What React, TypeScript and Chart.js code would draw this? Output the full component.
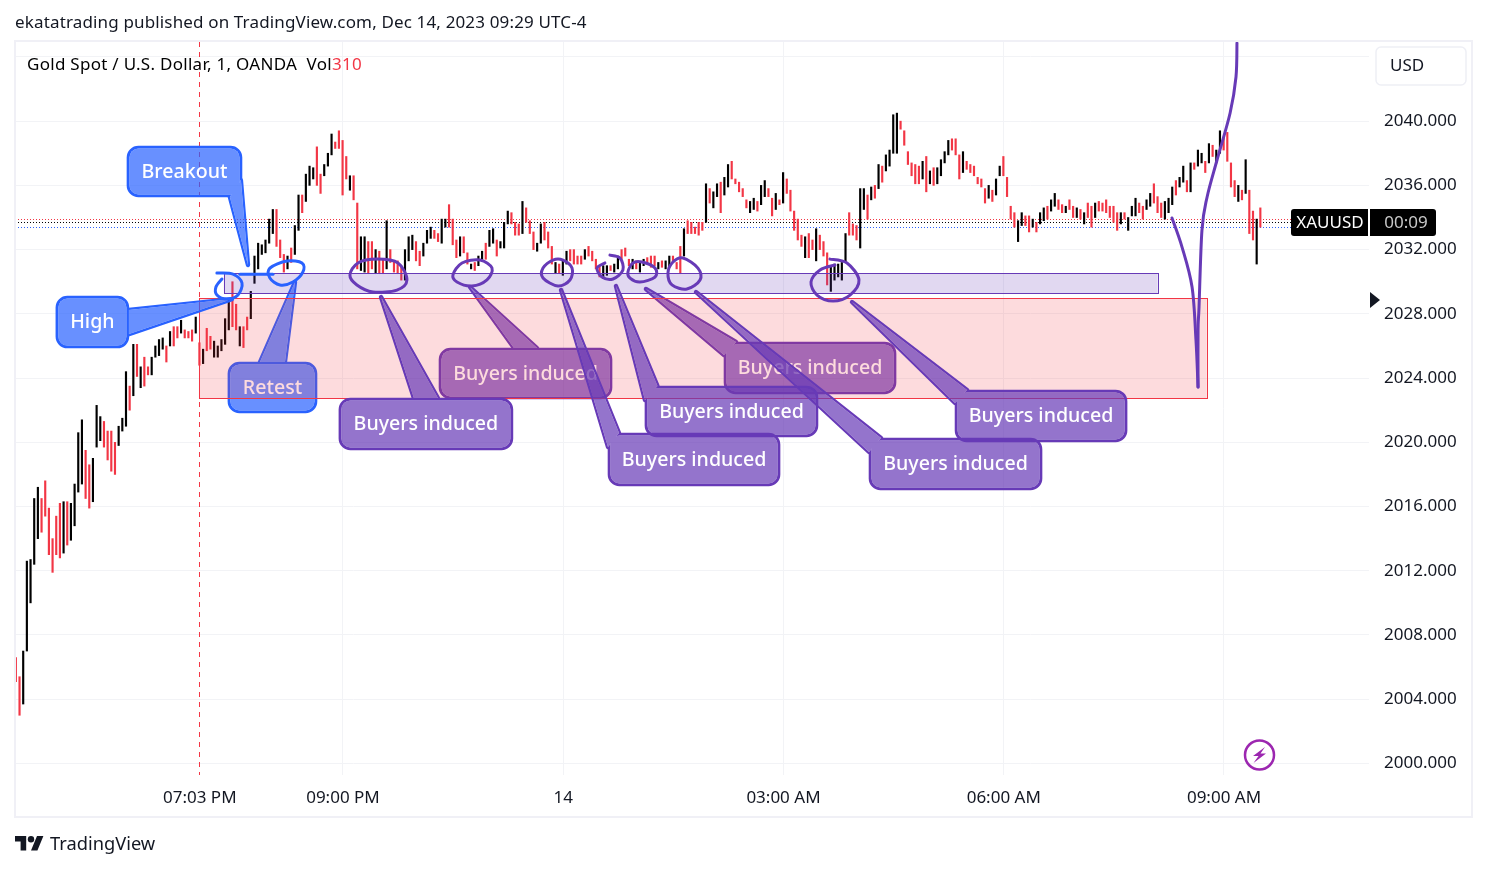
import React, { useEffect, useRef } from "react";
import { Chart, registerables } from "chart.js";

Chart.register(...registerables);

const FONT = '"Noto Sans"';

// one candle per three one-minute bars; envelope high / low and colour (B = up, R = down)
const highsEvening = [
  2006.6, 2005.4, 2007.0, 2012.6, 2012.7, 2016.5, 2017.2, 2016.5, 2017.6, 2015.9,
  2014.0, 2015.4, 2016.2, 2016.3, 2016.3, 2016.2, 2017.4, 2020.6, 2021.4, 2019.5,
  2018.6, 2019.0, 2022.3, 2021.6, 2021.3, 2020.7, 2020.7, 2020.0, 2021.0, 2021.5,
  2024.4, 2023.5, 2026.1, 2026.1, 2024.7, 2025.3, 2024.7, 2025.3, 2026.0, 2026.4,
  2026.5, 2026.0, 2026.9, 2027.2, 2027.2, 2027.6, 2027.0, 2026.9, 2027.0, 2027.8,
  2026.2, 2025.8, 2027.1, 2026.6, 2026.3, 2026.0, 2026.4, 2027.7, 2028.9, 2030.0,
  2028.6, 2027.2, 2027.2, 2027.8, 2029.4, 2031.6, 2032.4, 2032.3, 2032.6, 2033.9,
  2034.5, 2034.5, 2032.6, 2031.7, 2031.6, 2032.1, 2033.5, 2035.4, 2035.4, 2036.7,
  2037.2, 2037.1, 2038.4, 2036.7, 2037.3, 2038.0, 2039.2, 2038.7, 2039.4, 2038.8,
  2037.8, 2036.6, 2036.6, 2034.9,
];
const lowsEvening = [
  2005.1, 2003.0, 2003.7, 2007.0, 2010.0, 2012.4, 2014.0, 2014.4, 2015.4, 2013.0,
  2011.9, 2013.0, 2012.8, 2013.1, 2013.6, 2013.9, 2014.8, 2016.9, 2017.4, 2016.5,
  2015.9, 2016.3, 2019.7, 2020.1, 2019.7, 2018.9, 2018.2, 2018.0, 2019.8, 2020.7,
  2021.0, 2022.0, 2022.9, 2024.1, 2023.4, 2023.5, 2024.2, 2024.2, 2025.3, 2025.4,
  2025.8, 2025.0, 2026.0, 2026.0, 2026.5, 2026.8, 2026.5, 2026.5, 2026.3, 2026.8,
  2024.8, 2024.9, 2025.7, 2025.8, 2025.3, 2025.3, 2025.7, 2026.1, 2027.0, 2027.2,
  2027.0, 2026.0, 2025.9, 2027.0, 2027.7, 2029.9, 2030.8, 2031.7, 2031.8, 2032.4,
  2033.0, 2032.2, 2031.5, 2030.6, 2030.8, 2031.2, 2031.7, 2033.2, 2034.3, 2035.0,
  2036.0, 2036.4, 2036.0, 2035.5, 2036.6, 2037.2, 2037.9, 2038.3, 2038.3, 2035.4,
  2036.4, 2035.7, 2035.1, 2030.8,
];
const dirsEvening =
  "RRBBBBBRRR" + "RRRBRBBBBR" + "RBBBRRRRBB" + "BRBRBRRBBB" + "BRBRRBRRRB" +
  "RBRRBBBBBR" + "RBRRBBBBBB" + "BRRRBRBBRB" + "BBRRBBBRRR" + "RBRR";

const highsNight = [
  2032.8, 2032.8, 2032.5, 2032.5, 2032.0, 2031.9, 2031.4, 2033.8, 2032.0, 2031.3,
  2031.3, 2030.9, 2032.0, 2032.8, 2032.9, 2032.5, 2031.9, 2032.4, 2033.2, 2033.4,
  2033.2, 2033.0, 2033.9, 2033.9, 2034.8, 2033.9, 2032.6, 2032.8, 2032.8, 2031.8,
  2031.1, 2031.2, 2031.6, 2031.9, 2032.4, 2033.2, 2033.3, 2032.6, 2032.5, 2033.7,
  2034.4, 2034.3, 2033.7, 2033.6, 2035.0, 2034.6, 2033.8, 2033.1, 2032.4, 2033.6,
  2033.7, 2033.1, 2032.2, 2031.2, 2031.1, 2031.3, 2031.9, 2032.0, 2032.0, 2031.6,
  2031.6, 2032.0, 2032.2, 2031.9, 2031.4, 2030.9, 2031.0, 2031.0, 2031.0, 2031.1,
  2031.6, 2032.0, 2032.1, 2031.4, 2031.4, 2031.3, 2031.2, 2031.4, 2031.5, 2031.6,
  2031.6, 2031.2, 2031.3, 2031.3, 2031.6, 2031.6, 2031.2, 2032.2, 2033.3, 2033.8,
  2033.7, 2033.4, 2033.7, 2033.7, 2036.1,
];
const lowsNight = [
  2030.7, 2030.6, 2030.5, 2030.8, 2030.5, 2030.5, 2030.5, 2030.8, 2031.2, 2030.6,
  2030.5, 2030.1, 2030.1, 2031.3, 2032.0, 2031.3, 2031.0, 2031.6, 2032.4, 2032.7,
  2032.7, 2032.5, 2032.4, 2033.4, 2033.4, 2032.3, 2031.5, 2031.6, 2031.8, 2031.1,
  2030.8, 2030.7, 2031.0, 2031.4, 2031.4, 2032.2, 2032.4, 2031.6, 2032.1, 2032.1,
  2033.6, 2033.6, 2032.9, 2032.9, 2033.0, 2033.7, 2033.0, 2032.0, 2031.9, 2032.4,
  2032.6, 2032.1, 2031.1, 2030.5, 2030.5, 2030.4, 2031.1, 2031.3, 2031.1, 2031.1,
  2031.1, 2031.4, 2031.6, 2031.3, 2030.8, 2030.3, 2030.2, 2030.4, 2030.7, 2030.6,
  2030.8, 2031.4, 2031.6, 2031.0, 2030.8, 2030.8, 2030.6, 2031.0, 2031.1, 2030.9,
  2031.0, 2030.8, 2030.9, 2030.8, 2030.9, 2031.2, 2030.8, 2030.5, 2031.6, 2033.0,
  2033.0, 2033.0, 2032.9, 2033.2, 2033.7,
];
const dirsNight =
  "BBRRBRRBRR" + "RRBBBRRBBB" + "RRBBRRRBRR" + "BRBBRBBRBB" + "BRRRBRRRBB" +
  "RRRBRBBRRR" + "RBRRRRBBRB" + "BRRRBRBBRR" + "RBRBBRRRBR" + "RRRRB";

const highsMorning = [
  2035.8, 2035.6, 2036.1, 2036.2, 2036.5, 2037.3, 2037.5, 2036.4, 2036.2, 2035.8,
  2035.1, 2035.0, 2035.2, 2035.0, 2036.0, 2036.3, 2035.8, 2035.2, 2035.5, 2035.1,
  2036.8, 2036.4, 2035.7, 2034.4, 2033.9, 2032.9, 2032.8, 2033.0, 2032.6, 2033.3,
  2032.9, 2032.5, 2031.8, 2031.0, 2031.1, 2031.1, 2031.2, 2033.0, 2034.3, 2033.6,
  2033.5, 2035.8, 2035.8, 2035.4, 2035.9, 2036.0, 2037.3, 2037.2, 2037.9, 2038.2,
  2040.4, 2040.5, 2040.0, 2039.4, 2038.1, 2037.4, 2037.3, 2037.2, 2037.5, 2037.8,
  2036.9, 2037.1, 2037.1, 2037.6, 2038.1, 2038.8, 2038.9, 2038.9, 2037.9, 2038.1,
  2037.5, 2037.3, 2037.2, 2036.5, 2036.4, 2035.8, 2036.0, 2035.7, 2036.4, 2037.2,
  2037.8, 2036.5, 2034.7, 2034.3, 2033.8, 2034.3, 2034.1, 2034.1, 2033.9, 2033.7,
  2034.3,
];
const lowsMorning = [
  2034.9, 2034.6, 2035.3, 2034.3, 2035.4, 2035.9, 2036.4, 2036.1, 2035.6, 2035.3,
  2034.6, 2034.3, 2034.5, 2034.4, 2034.8, 2035.3, 2035.3, 2034.1, 2034.5, 2034.8,
  2034.9, 2035.5, 2034.4, 2033.2, 2032.6, 2032.2, 2031.5, 2031.5, 2032.0, 2031.3,
  2032.0, 2031.6, 2029.8, 2029.4, 2030.1, 2030.3, 2030.1, 2031.2, 2032.9, 2032.9,
  2032.6, 2032.1, 2034.5, 2033.9, 2035.1, 2035.2, 2035.8, 2036.2, 2036.9, 2037.2,
  2038.0, 2038.0, 2039.5, 2038.5, 2037.3, 2036.6, 2036.1, 2036.1, 2036.4, 2035.6,
  2036.1, 2036.0, 2036.1, 2036.6, 2037.4, 2037.9, 2038.2, 2037.9, 2036.4, 2036.8,
  2037.0, 2036.8, 2036.6, 2036.1, 2035.9, 2034.9, 2035.2, 2035.0, 2035.4, 2036.6,
  2036.6, 2035.3, 2033.9, 2033.4, 2032.5, 2033.5, 2033.5, 2033.1, 2033.4, 2033.1,
  2033.6,
];
const dirsMorning =
  "RBBRBBRRRR" + "RBBRBBRRBR" + "BRRRRRBRRB" + "RRRBBBBBRR" + "RBBRBRBRBB" +
  "BBRRRRRRBR" + "BRBBBBRRRB" + "RRRRRRBRBB" + "RRRRBBRRBR" + "B";

const highsMarket = [
  2034.6, 2034.7, 2035.1, 2035.5, 2035.1, 2034.8, 2034.7, 2035.1, 2034.7, 2034.6,
  2034.5, 2034.3, 2034.9, 2034.7, 2034.9, 2035.0, 2034.9, 2035.1, 2034.7, 2034.7,
  2034.3, 2034.3, 2034.3, 2034.0, 2034.7, 2035.2, 2034.9, 2034.7, 2035.1, 2035.5,
  2036.1, 2035.3, 2034.9, 2035.0, 2035.2, 2035.9, 2036.3, 2036.5, 2037.2, 2036.3,
  2037.4, 2037.4, 2038.2, 2038.0, 2037.5, 2038.6, 2038.5, 2038.2, 2039.4, 2039.0,
  2039.3, 2037.4, 2036.3, 2036.0, 2035.7, 2037.6, 2035.7, 2034.4, 2033.9, 2034.6,
];
const lowsMarket = [
  2033.8, 2033.9, 2034.4, 2034.7, 2034.5, 2034.3, 2034.3, 2034.5, 2034.0, 2034.0,
  2033.9, 2033.6, 2034.0, 2033.4, 2034.0, 2034.4, 2034.4, 2034.3, 2034.0, 2033.7,
  2033.2, 2033.6, 2033.9, 2033.2, 2034.1, 2034.1, 2034.3, 2033.9, 2034.5, 2034.7,
  2034.9, 2034.3, 2034.0, 2033.9, 2034.3, 2034.8, 2035.4, 2035.9, 2036.2, 2035.6,
  2035.6, 2037.0, 2037.2, 2037.4, 2036.8, 2037.4, 2037.8, 2037.4, 2038.0, 2038.2,
  2037.5, 2035.9, 2035.3, 2035.0, 2035.1, 2035.5, 2033.0, 2032.6, 2031.1, 2033.4,
];
const dirsMarket =
  "BRBBRRBRRB" + "RBRRBRRRRR" + "RBRBBBRRBB" + "RRRBBBRBBR" + "BRBBRBRBBR" +
  "RRRBRBRRBR";

const highs = [...highsEvening, ...highsNight, ...highsMorning, ...highsMarket];
const lows = [...lowsEvening, ...lowsNight, ...lowsMorning, ...lowsMarket];
const dirs = dirsEvening + dirsNight + dirsMorning + dirsMarket;

const firstMinute = -267.3; // minutes relative to 9:00 PM
const minutesPerCandle = 3;

const timeTicks = [-117, 0, 180, 360, 540, 720];
const timeLabels = ["07:03 PM", "09:00 PM", "14", "03:00 AM", "06:00 AM", "09:00 AM"];
const priceTicks = [2000, 2004, 2008, 2012, 2016, 2020, 2024, 2028, 2032, 2036, 2040, 2044];
const priceLabels = ["2000.000", "2004.000", "2008.000", "2012.000", "2016.000", "2020.000", "2024.000", "2028.000", "2032.000", "2036.000", "2040.000", ""];

const priceLevels = [
  { price: 2033.89, color: "#f23645" },
  { price: 2033.7, color: "#000000" },
  { price: 2033.4, color: "#2962ff" },
];

const BLUE = { line: "#2962ff", fill: "#2962ff", alpha: 0.7 };
const PURPLE = { line: "#673ab7", fill: "#673ab7", alpha: 0.7 };

type P = [number, number];
type Callout = { text: string; box: [number, number, number, number]; tip: P; base: [P, P]; style: typeof BLUE };

const calloutBreakout: Callout = { text: "Breakout", box: [-176.5, 2038.45, -82.5, 2035.28], tip: [-77.6, 2031.04], base: [[-92.4, 2035.28], [-83.4, 2036.33]], style: BLUE };
const calloutHigh: Callout = { text: "High", box: [-234.6, 2029.11, -174.9, 2025.87], tip: [-90.7, 2028.92], base: [[-174.9, 2028.24], [-174.9, 2026.74]], style: BLUE };
const calloutRetest: Callout = { text: "Retest", box: [-94, 2025.0, -21.2, 2021.83], tip: [-39.2, 2029.98], base: [[-67.8, 2025.0], [-47.4, 2025.0]], style: BLUE };
const buyers = "Buyers induced";
const callout1: Callout = { text: buyers, box: [-3.3, 2022.76, 138.9, 2019.52], tip: [31.1, 2029.05], base: [[58, 2022.76], [77.6, 2022.76]], style: PURPLE };
const callout2: Callout = { text: buyers, box: [78.5, 2025.87, 219.9, 2022.7], tip: [103.8, 2029.67], base: [[139.8, 2025.87], [158.6, 2025.87]], style: PURPLE };
const callout3: Callout = { text: buyers, box: [216.6, 2020.58, 357.2, 2017.28], tip: [178.2, 2029.49], base: [[225.6, 2020.58], [216.6, 2019.71]], style: PURPLE };
const callout4: Callout = { text: buyers, box: [246.8, 2023.51, 388.2, 2020.33], tip: [223.1, 2029.73], base: [[257, 2023.51], [246.8, 2022.63]], style: PURPLE };
const callout5: Callout = { text: buyers, box: [311.4, 2026.25, 452, 2023.01], tip: [247.6, 2029.55], base: [[321.2, 2026.25], [311.4, 2025.44]], style: PURPLE };
const callout6: Callout = { text: buyers, box: [429.9, 2020.27, 571.3, 2017.03], tip: [288.5, 2029.36], base: [[439.7, 2020.27], [429.9, 2019.4]], style: PURPLE };
const callout7: Callout = { text: buyers, box: [500.2, 2023.26, 640.8, 2020.02], tip: [416, 2028.74], base: [[510, 2023.26], [500.2, 2022.45]], style: PURPLE };

const redZone = { box: [-117.7, 2028.97, 705.9, 2022.74], line: "#f23645", fill: "rgba(242,54,69,0.18)" };
const purpleZone = { box: [-97.3, 2030.52, 665.8, 2029.28], line: "#673ab7", fill: "rgba(103,58,183,0.2)" };

// brush strokes, as (minute, price)
const blueStrokes: { pts: P[]; closed?: boolean }[] = [
  { pts: [[-103, 2030.54], [-89.9, 2030.48], [-82.5, 2029.92], [-85.8, 2029.17], [-94.8, 2028.92], [-103, 2029.17], [-103.8, 2029.67], [-98.9, 2030.17]] },
  { pts: [[-84.2, 2030.46], [-57.2, 2030.46]] },
  { closed: true, pts: [[-45.8, 2031.29], [-33.5, 2031.17], [-32.7, 2030.61], [-40.9, 2029.98], [-51.5, 2029.8], [-59.7, 2030.23], [-59.7, 2030.85]] },
];
const purpleStrokes: { pts: P[]; closed?: boolean }[] = [
  { closed: true, pts: [[5.7, 2030.42], [12.3, 2031.17], [27.8, 2031.41], [45, 2031.17], [52.3, 2030.11], [44.1, 2029.48], [24.5, 2029.36], [11.4, 2029.8]] },
  { closed: true, pts: [[112, 2031.35], [121.8, 2030.85], [117.7, 2030.11], [105.4, 2029.73], [93.2, 2029.98], [89.9, 2030.42], [97.3, 2031.17]] },
  { closed: true, pts: [[171.6, 2031.35], [163.5, 2030.85], [163.5, 2030.23], [175.7, 2029.73], [185.5, 2030.11], [187.2, 2030.85], [179.8, 2031.35]] },
  { pts: [[218.2, 2031.66], [226.4, 2031.48], [228.8, 2030.73], [220.7, 2030.17], [211.7, 2030.29], [207.6, 2030.85], [214.1, 2031.17]] },
  { closed: true, pts: [[244.4, 2031.23], [255, 2030.85], [255, 2030.29], [242.7, 2029.98], [234.6, 2030.23], [232.9, 2030.61], [237, 2031.17]] },
  { closed: true, pts: [[277.9, 2031.48], [290.1, 2030.85], [291.8, 2030.11], [281.1, 2029.55], [268.9, 2029.8], [265.6, 2030.54], [269.7, 2031.23]] },
  { pts: [[398, 2031.41], [411.9, 2031.17], [421.7, 2030.11], [414.4, 2029.17], [400.5, 2028.8], [387.4, 2029.17], [382.5, 2029.98], [389.9, 2030.73], [402.1, 2031.04]] },
  { pts: [[677.5, 2033.97], [685.7, 2032.16], [693.9, 2029.67], [697.1, 2026.37], [698.8, 2023.44]] },
  { pts: [[698.8, 2023.44], [698.8, 2026.99], [699.6, 2028.43], [702, 2033.22], [706.2, 2035.28], [714.3, 2037.58], [725, 2040.51], [729.8, 2042.75], [730.6, 2044.87]] },
];

function smooth(ctx: CanvasRenderingContext2D, pts: P[], closed?: boolean) {
  const n = pts.length;
  const g = (i: number) => (closed ? pts[(i + n) % n] : pts[Math.max(0, Math.min(n - 1, i))]);
  ctx.beginPath();
  ctx.moveTo(pts[0][0], pts[0][1]);
  const last = closed ? n : n - 1;
  for (let i = 0; i < last; i++) {
    const p0 = g(i - 1), p1 = g(i), p2 = g(i + 1), p3 = g(i + 2);
    ctx.bezierCurveTo(
      p1[0] + (p2[0] - p0[0]) / 6, p1[1] + (p2[1] - p0[1]) / 6,
      p2[0] - (p3[0] - p1[0]) / 6, p2[1] - (p3[1] - p1[1]) / 6,
      p2[0], p2[1]
    );
  }
  if (closed) ctx.closePath();
}

const annotationPlugin = {
  id: "annotations",
  beforeDatasetsDraw(chart: any) {
    const { ctx, chartArea, scales } = chart;
    const { x, y } = scales;
    ctx.save();
    // last-price levels run up to the symbol label
    ctx.lineWidth = 1;
    ctx.setLineDash([1, 2]);
    priceLevels.forEach((l) => {
      const py = Math.round(y.getPixelForValue(l.price)) + 0.5;
      ctx.strokeStyle = l.color;
      ctx.beginPath();
      ctx.moveTo(chartArea.left, py);
      ctx.lineTo(chartArea.right - 78, py);
      ctx.stroke();
    });
    // session divider
    const px = Math.round(x.getPixelForValue(timeTicks[0])) - 0.5;
    ctx.setLineDash([5, 5]);
    ctx.strokeStyle = "#f23645";
    ctx.beginPath();
    ctx.moveTo(px, chartArea.top);
    ctx.lineTo(px, chartArea.bottom);
    ctx.stroke();
    ctx.restore();
  },
  afterDatasetsDraw(chart: any) {
    const { ctx, scales, canvas } = chart;
    const { x, y } = scales;
    const at = (p: P): P => [x.getPixelForValue(p[0]), y.getPixelForValue(p[1])];

    const off = document.createElement("canvas");
    off.width = canvas.width;
    off.height = canvas.height;
    const oc = off.getContext("2d")!;

    const callout = (c: Callout) => {
      const [a, b] = at([c.box[0], c.box[1]]);
      const [e, f] = at([c.box[2], c.box[3]]);
      const box = new Path2D();
      box.roundRect(a + 2.5, b + 2.5, e - a - 5, f - b - 5, 9);
      const tail = new Path2D();
      const t = at(c.tip), b1 = at(c.base[0]), b2 = at(c.base[1]);
      tail.moveTo(b1[0], b1[1]);
      tail.lineTo(t[0], t[1]);
      tail.lineTo(b2[0], b2[1]);
      tail.closePath();
      // border ring
      oc.clearRect(0, 0, off.width, off.height);
      oc.globalCompositeOperation = "source-over";
      oc.strokeStyle = c.style.line;
      oc.lineWidth = 5.6;
      oc.lineJoin = "round";
      oc.stroke(box);
      oc.lineWidth = 4.4;
      oc.stroke(tail);
      oc.globalCompositeOperation = "destination-out";
      oc.fillStyle = "#000";
      oc.fill(box);
      oc.fill(tail);
      ctx.drawImage(off, 0, 0);
      // translucent body
      oc.globalCompositeOperation = "source-over";
      oc.clearRect(0, 0, off.width, off.height);
      oc.fillStyle = c.style.fill;
      oc.fill(box);
      oc.fill(tail);
      ctx.save();
      ctx.globalAlpha = c.style.alpha;
      ctx.drawImage(off, 0, 0);
      ctx.restore();
      // text
      ctx.save();
      ctx.fillStyle = "#ffffff";
      ctx.font = `500 19.6px ${FONT}`;
      ctx.textAlign = "center";
      ctx.textBaseline = "middle";
      ctx.fillText(c.text, (a + e) / 2, (b + f) / 2 + 0.5);
      ctx.restore();
    };

    const zone = (z: { box: number[]; line: string; fill: string }) => {
      const [a, b] = at([z.box[0], z.box[1]]);
      const [e, f] = at([z.box[2], z.box[3]]);
      ctx.save();
      ctx.fillStyle = z.fill;
      ctx.fillRect(a, b, e - a, f - b);
      ctx.strokeStyle = z.line;
      ctx.lineWidth = 1;
      ctx.strokeRect(Math.round(a) + 0.5, Math.round(b) + 0.5, Math.round(e - a), Math.round(f - b));
      ctx.restore();
    };

    const strokes = (list: { pts: P[]; closed?: boolean }[], color: string) => {
      ctx.save();
      ctx.strokeStyle = color;
      ctx.lineWidth = 3;
      ctx.lineCap = "round";
      ctx.lineJoin = "round";
      list.forEach((s) => {
        smooth(ctx, s.pts.map(at), s.closed);
        ctx.stroke();
      });
      ctx.restore();
    };

    [calloutRetest, callout2, callout5].forEach(callout);
    zone(redZone);
    zone(purpleZone);
    [calloutBreakout, calloutHigh, callout4, callout1, callout3, callout7, callout6].forEach(callout);
    strokes(blueStrokes, "#2962ff");
    strokes(purpleStrokes, "#673ab7");

    // chart furniture
    ctx.save();
    ctx.textBaseline = "middle";
    ctx.font = `17px ${FONT}`;
    (ctx as any).letterSpacing = "0.15px";
    ctx.fillStyle = "#131722";
    ctx.fillText("ekatatrading published on TradingView.com, Dec 14, 2023 09:29 UTC-4", 15, 23.5);
    (ctx as any).letterSpacing = "0.28px";
    ctx.fillStyle = "#000";
    ctx.fillText("Gold Spot / U.S. Dollar, 1, OANDA  Vol", 27, 65.5);
    const w = ctx.measureText("Gold Spot / U.S. Dollar, 1, OANDA  Vol").width;
    ctx.fillStyle = "#f23645";
    ctx.fillText("310", 27 + w, 65.5);
    (ctx as any).letterSpacing = "0px";

    // currency button
    ctx.strokeStyle = "#eeeff5";
    ctx.lineWidth = 1.5;
    ctx.beginPath();
    ctx.roundRect(1376, 47, 90, 38, 5);
    ctx.stroke();
    ctx.fillStyle = "#131722";
    ctx.fillText("USD", 1390, 66.5);

    // symbol + countdown label
    ctx.fillStyle = "#000";
    ctx.beginPath();
    ctx.roundRect(1291, 209, 77, 27, [3, 0, 0, 3]);
    ctx.fill();
    ctx.beginPath();
    ctx.roundRect(1370, 209, 66, 27, [0, 3, 3, 0]);
    ctx.fill();
    ctx.fillStyle = "#ffffff";
    ctx.textAlign = "center";
    ctx.fillText("XAUUSD", 1330, 223.5);
    ctx.fillStyle = "#c8c8c8";
    ctx.fillText("00:09", 1406, 223.5);
    ctx.textAlign = "left";

    // scale arrow
    ctx.fillStyle = "#131722";
    ctx.beginPath();
    ctx.moveTo(1370, 292);
    ctx.lineTo(1380, 300);
    ctx.lineTo(1370, 308);
    ctx.closePath();
    ctx.fill();

    // lightning badge
    ctx.strokeStyle = "#9c27b0";
    ctx.lineWidth = 2.5;
    ctx.beginPath();
    ctx.arc(1259.5, 755, 14.5, 0, Math.PI * 2);
    ctx.stroke();
    ctx.fillStyle = "#9c27b0";
    ctx.beginPath();
    ctx.moveTo(1265, 747);
    ctx.lineTo(1253, 756);
    ctx.lineTo(1258.5, 756);
    ctx.lineTo(1253.5, 763);
    ctx.lineTo(1266, 753.5);
    ctx.lineTo(1260.5, 753.5);
    ctx.closePath();
    ctx.fill();

    // pane frame
    ctx.strokeStyle = "#f0f0f6";
    ctx.lineWidth = 2;
    ctx.strokeRect(15, 41, 1457, 776);

    // brand
    ctx.fillStyle = "#131722";
    ctx.save();
    ctx.translate(15, 832.8);
    ctx.scale(0.8, 0.8);
    ctx.fill(new Path2D("M14 22H7V11H0V4h14v18zM28 22h-8l7.5-18h8L28 22z"));
    ctx.beginPath();
    ctx.arc(20, 8, 4, 0, Math.PI * 2);
    ctx.fill();
    ctx.restore();
    ctx.font = `18.3px ${FONT}`;
    ctx.fillText("TradingView", 50, 845);
    ctx.restore();
  },
};

export default function App() {
  const ref = useRef<HTMLCanvasElement>(null);
  useEffect(() => {
    const points = highs.map((h, i) => ({ x: firstMinute + i * minutesPerCandle, y: [lows[i], h] }));
    const colors = highs.map((_, i) => (dirs[i] === "R" ? "#f23645" : "#000000"));
    const chart = new Chart(ref.current!, {
      type: "bar",
      data: {
        datasets: [
          {
            label: "XAUUSD",
            data: points as any,
            backgroundColor: colors,
            borderWidth: 0,
            barThickness: 1.5,
          },
        ],
      },
      plugins: [annotationPlugin as any],
      options: {
        animation: false,
        responsive: false,
        devicePixelRatio: 1,
        layout: { padding: { left: 15, top: 42, right: 15, bottom: 53 } },
        plugins: { legend: { display: false }, tooltip: { enabled: false } },
        scales: {
          x: {
            type: "linear",
            offset: false,
            min: -268,
            max: 838.5,
            grid: {
              offset: false,
              drawTicks: false,
              color: (c: any) => (c.tick && c.tick.value === timeTicks[0] ? "rgba(0,0,0,0)" : "#f2f3f6"),
            },
            border: { display: false },
            afterBuildTicks: (s: any) => {
              s.ticks = timeTicks.map((value) => ({ value }));
            },
            afterFit: (s: any) => {
              s.height = 42;
            },
            ticks: {
              autoSkip: false,
              maxRotation: 0,
              padding: 13,
              color: "#131722",
              font: { family: FONT, size: 17 },
              callback: (v: any) => timeLabels[timeTicks.indexOf(v)],
            },
          },
          y: {
            position: "right",
            min: 1999.28,
            max: 2044.93,
            grid: { drawTicks: false, color: "#f2f3f6" },
            border: { display: false },
            afterBuildTicks: (s: any) => {
              s.ticks = priceTicks.map((value) => ({ value }));
            },
            afterFit: (s: any) => {
              s.width = 103;
            },
            ticks: {
              autoSkip: false,
              padding: 15,
              color: "#131722",
              font: { family: FONT, size: 17 },
              callback: (v: any) => priceLabels[priceTicks.indexOf(v)],
            },
          },
        },
      },
    });
    return () => chart.destroy();
  }, []);
  return <canvas ref={ref} width={1487} height={870} style={{ position: "absolute", left: 0, top: 0, width: 1487, height: 870 }} />;
}
